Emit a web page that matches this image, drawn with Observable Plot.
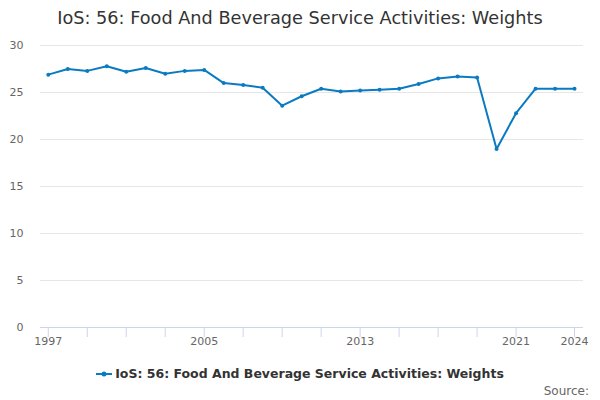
<!DOCTYPE html>
<html>
<head>
<meta charset="utf-8">
<script src="https://cdn.jsdelivr.net/npm/d3@7"></script>
<script src="https://cdn.jsdelivr.net/npm/@observablehq/plot@0.6"></script>
<style>
  body { margin: 0; width: 600px; height: 400px; background: #fff; font-family: "DejaVu Sans", sans-serif; overflow: hidden; position: relative; }
  #title { height: 36px; line-height: 36px; text-align: center; font-size: 17.7px; color: #333; }
  #legend { position: absolute; top: 366px; left: 0; width: 600px; text-align: center; font-size: 12.5px; font-weight: bold; color: #333; }
  #legend svg { vertical-align: -1px; margin-right: 3px; }
  #source { position: absolute; top: 384px; right: 11px; font-size: 12px; color: #666; }
  #chart { position: absolute; top: 36px; left: 0; }
</style>
</head>
<body>
<div id="title">IoS: 56: Food And Beverage Service Activities: Weights</div>
<div id="chart"></div>
<div id="legend"><svg width="16" height="10"><line x1="0" y1="5" x2="16" y2="5" stroke="#0b7bc1" stroke-width="2"/><circle cx="8" cy="5" r="2.5" fill="#0b7bc1"/></svg>IoS: 56: Food And Beverage Service Activities: Weights</div>
<div id="source">Source:</div>
<script>
const years = [1997,1998,1999,2000,2001,2002,2003,2004,2005,2006,2007,2008,2009,2010,2011,2012,2013,2014,2015,2016,2017,2018,2019,2020,2021,2022,2023,2024];
const values = [26.9,27.5,27.3,27.8,27.2,27.6,27.0,27.3,27.4,26.0,25.8,25.5,23.6,24.6,25.4,25.1,25.2,25.3,25.4,25.9,26.5,26.7,26.6,19.0,22.8,25.4,25.4,25.4];
const xTicks = [1997,1999,2001,2003,2005,2007,2009,2011,2013,2015,2017,2019,2021,2024];
const xLabels = [1997,2005,2013,2021,2024];
const yTicks = [0,5,10,15,20,25,30];

const data = years.map((y, i) => ({year: y, value: values[i]}));
const color = "#0b7bc1";

const plot = Plot.plot({
  width: 600,
  height: 320,
  marginTop: 9,
  marginBottom: 29,
  marginLeft: 40,
  marginRight: 17,
  style: {fontFamily: "DejaVu Sans, sans-serif", fontSize: "11px", color: "#666", background: "#fff"},
  x: {type: "linear", domain: [1996.6, 2024.46], axis: null},
  y: {type: "linear", domain: [0, 30], axis: null},
  marks: [
    Plot.ruleY(yTicks.filter(d => d > 0), {y: d => d, stroke: "#e6e6e6", strokeWidth: 1, strokeOpacity: 1}),
    Plot.ruleY([0], {y: d => d, stroke: "#ccd6eb", strokeWidth: 1, strokeOpacity: 1}),
    Plot.axisX({ticks: xTicks, tickSize: 10, tickPadding: 0, label: null,
      tickFormat: d => xLabels.includes(d) ? String(d) : "",
      stroke: "#ccd6eb", strokeOpacity: 1, fill: "#666", fontSize: 11}),
    Plot.axisY({ticks: yTicks, tickSize: 0, tickPadding: 17, label: null, fill: "#666", fontSize: 11}),
    Plot.line(data, {x: "year", y: "value", stroke: color, strokeWidth: 2}),
    Plot.dot(data, {x: "year", y: "value", fill: color, r: 2})
  ]
});
document.getElementById("chart").appendChild(plot);
</script>
</body>
</html>
